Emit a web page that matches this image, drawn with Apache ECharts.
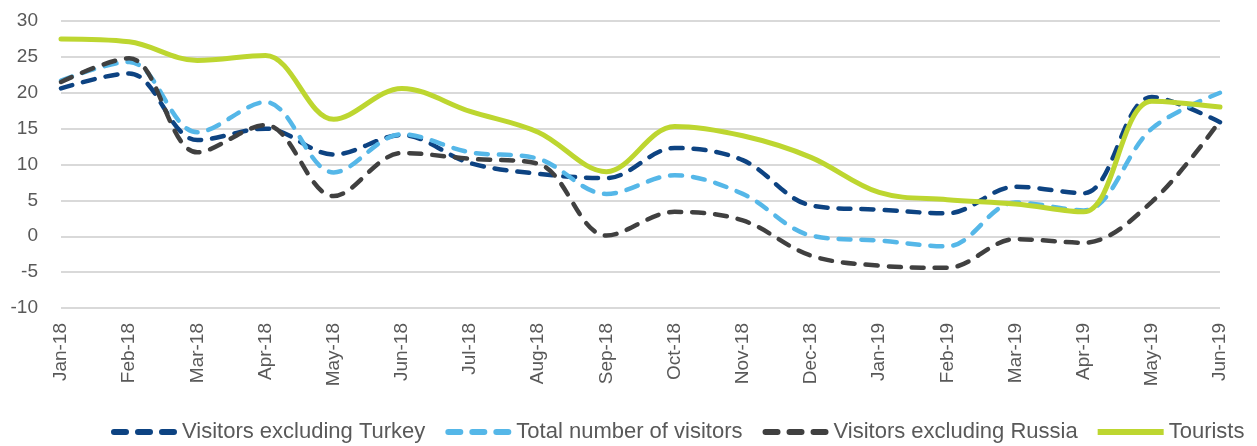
<!DOCTYPE html>
<html><head><meta charset="utf-8">
<script src="https://cdn.jsdelivr.net/npm/echarts@6/dist/echarts.min.js"></script>
<style>html,body{margin:0;padding:0;background:#fff}#c{width:1257px;height:446px}</style>
</head><body><div id="c"></div>
<script>
const categories = ['Jan-18','Feb-18','Mar-18','Apr-18','May-18','Jun-18','Jul-18','Aug-18','Sep-18','Oct-18','Nov-18','Dec-18','Jan-19','Feb-19','Mar-19','Apr-19','May-19','Jun-19'];
const exTurkey = [20.6,22.7,13.4,15.0,11.4,14.1,10.2,8.7,8.1,12.3,10.6,4.3,3.7,3.2,6.9,6.0,19.4,15.9];
const totalVisitors = [21.7,24.3,14.5,18.7,8.9,14.2,11.7,10.8,5.9,8.5,5.9,0.1,-0.6,-1.4,4.7,3.6,15.0,20.0];
const exRussia = [21.5,24.8,11.7,15.5,5.6,11.6,10.8,10.1,0.1,3.4,2.2,-2.7,-4.1,-4.4,-0.4,-0.9,4.8,16.1];
const tourists = [27.5,27.1,24.5,25.2,16.3,20.6,17.4,14.5,9.0,15.3,14.0,11.0,6.1,5.1,4.5,3.4,18.8,18.0];
const yTicks = {min:-10, max:30, interval:5};
const names = ['Visitors excluding Turkey','Total number of visitors','Visitors excluding Russia','Tourists'];
const colors = ['#0d4382','#55b7e8','#404040','#bdd630'];

const dashIcon = 'path://M3,0h12a3,3 0 0 1 0,6h-12a3,3 0 0 1 0,-6z M27,0h12a3,3 0 0 1 0,6h-12a3,3 0 0 1 0,-6z M51,0h12a3,3 0 0 1 0,6h-12a3,3 0 0 1 0,-6z';
const solidIcon = 'path://M0,0h66v6h-66z';

function mk(i, data, dashed){
  return {name:names[i], type:'line', data:data, smooth:0.35, symbol:'none',
    lineStyle:{color:colors[i], width:dashed?4.5:5, type:dashed?[12,11]:'solid', cap:'round', join:'round'},
    itemStyle:{color:colors[i]}, z: dashed?2:3};
}
const chart = echarts.init(document.getElementById('c'), null, {renderer:'canvas'});
chart.setOption({
  animation:false,
  textStyle:{fontFamily:'Liberation Sans'},
  grid:{left:61, right:37, top:21, bottom:138, containLabel:false},
  xAxis:{type:'category', data:categories, boundaryGap:false,
    axisLine:{show:false}, axisTick:{show:false},
    axisLabel:{rotate:90, color:'#595959', fontSize:19, margin:15, interval:0}},
  yAxis:{type:'value', min:yTicks.min, max:yTicks.max, interval:yTicks.interval,
    axisLine:{show:false}, axisTick:{show:false},
    axisLabel:{color:'#595959', fontSize:19, margin:23},
    splitLine:{lineStyle:{color:'#d9d9d9', width:2}}},
  legend:{bottom:-2, left:106, itemWidth:66, itemHeight:6, itemGap:20,
    textStyle:{color:'#595959', fontSize:22},
    data:[{name:names[0], icon:dashIcon, itemStyle:{color:colors[0]}},
          {name:names[1], icon:dashIcon, itemStyle:{color:colors[1]}},
          {name:names[2], icon:dashIcon, itemStyle:{color:colors[2]}},
          {name:names[3], icon:solidIcon, itemStyle:{color:colors[3]}}]},
  series:[mk(0,exTurkey,true), mk(1,totalVisitors,true), mk(2,exRussia,true), mk(3,tourists,false)]
});
</script></body></html>
